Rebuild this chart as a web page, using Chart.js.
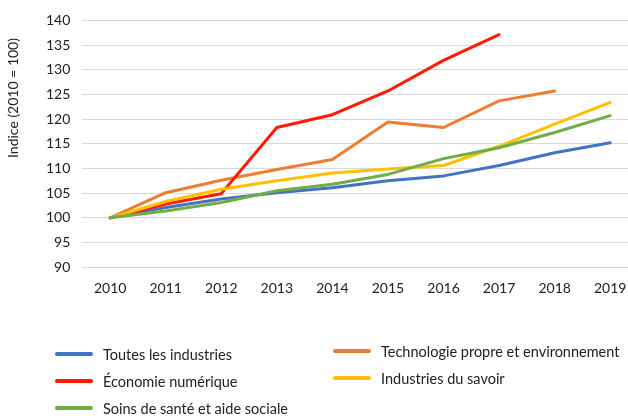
<!DOCTYPE html>
<html><head><meta charset="utf-8">
<script src="https://cdn.jsdelivr.net/npm/chart.js@4/dist/chart.umd.min.js"></script>
<style>
html,body{margin:0;padding:0;background:#fff;overflow:hidden;width:628px;height:416px;}
#wrap{position:absolute;left:0;top:0;width:640px;height:310px;}
#legend{position:absolute;left:0;top:0;width:628px;height:416px;pointer-events:none;font-family:Lato,"Open Sans",sans-serif;font-size:14.5px;color:#222;}
.item{position:absolute;display:flex;align-items:center;white-space:nowrap;}
.sw{width:38px;height:4px;border-radius:2px;margin-right:10px;}
</style></head><body>
<div id="wrap"><canvas id="c" width="640" height="310"></canvas></div>
<div id="legend"></div>
<script>
const years = ['2010','2011','2012','2013','2014','2015','2016','2017','2018','2019'];
const toutes = [100,102.1,103.8,105.1,106.1,107.5,108.5,110.6,113.2,115.2];
const technologie = [100,105.1,107.6,109.8,111.8,119.4,118.3,123.7,125.7,null];
const economie = [100,102.8,104.9,118.3,120.9,125.7,131.9,137.1,null,null];
const savoir = [100,103.3,105.8,107.5,109.1,109.9,110.6,114.5,119.0,123.4];
const sante = [100,101.4,103.1,105.5,106.8,108.8,112.0,114.2,117.3,120.7];
const yTicks = [90,95,100,105,110,115,120,125,130,135,140];

const series = [
  {label:'Toutes les industries', data:toutes, color:'#4472C4', lx:55, ly:354},
  {label:'Technologie propre et environnement', data:technologie, color:'#ED7D31', lx:333, ly:351},
  {label:'Économie numérique', data:economie, color:'#FF1A00', lx:55, ly:381},
  {label:'Industries du savoir', data:savoir, color:'#FFC000', lx:333, ly:378},
  {label:'Soins de santé et aide sociale', data:sante, color:'#70AD47', lx:55, ly:408}
];

const yTitle = {
  id:'yTitle',
  afterDraw(chart){
    const ctx = chart.ctx;
    ctx.save();
    ctx.translate(13, 98);
    ctx.rotate(-Math.PI/2);
    ctx.font = '14px Lato, "Open Sans", sans-serif';
    ctx.fillStyle = '#222';
    ctx.textAlign = 'center';
    ctx.textBaseline = 'middle';
    ctx.fillText('Indice (2010 = 100)', 0, 0);
    ctx.restore();
  }
};

new Chart(document.getElementById('c'), {
  type:'line',
  data:{
    labels:years,
    datasets:series.map((s,i)=>({
      label:s.label, data:s.data, borderColor:s.color, backgroundColor:s.color,
      borderWidth:3, pointRadius:0, tension:0, spanGaps:false, order:series.length-i,
      borderJoinStyle:'round', borderCapStyle:'round'
    }))
  },
  options:{
    responsive:false, animation:false,
    layout:{padding:{left:34,top:16,right:2,bottom:0}},
    plugins:{legend:{display:false}, tooltip:{enabled:false}},
    scales:{
      x:{
        offset:true,
        grid:{display:false, drawTicks:false},
        border:{display:false},
        ticks:{color:'#222', font:{family:'Lato, "Open Sans", sans-serif', size:14}, padding:13, maxRotation:0, autoSkip:false}
      },
      y:{
        min:90, max:140,
        afterBuildTicks(axis){ axis.ticks = yTicks.map(v=>({value:v})); },
        grid:{color:'#D9D9D9', lineWidth:1, drawTicks:false},
        border:{display:false},
        ticks:{color:'#222', font:{family:'Lato, "Open Sans", sans-serif', size:14}, padding:12}
      }
    }
  },
  plugins:[yTitle]
});

const lg = document.getElementById('legend');
series.forEach(s=>{
  const d = document.createElement('div');
  d.className='item';
  d.style.left = s.lx+'px';
  d.style.top = (s.ly-9)+'px';
  d.style.height='18px';
  const sw = document.createElement('div');
  sw.className='sw'; sw.style.background=s.color;
  const t = document.createElement('span');
  t.textContent = s.label;
  d.appendChild(sw); d.appendChild(t);
  lg.appendChild(d);
});
</script>
</body></html>
